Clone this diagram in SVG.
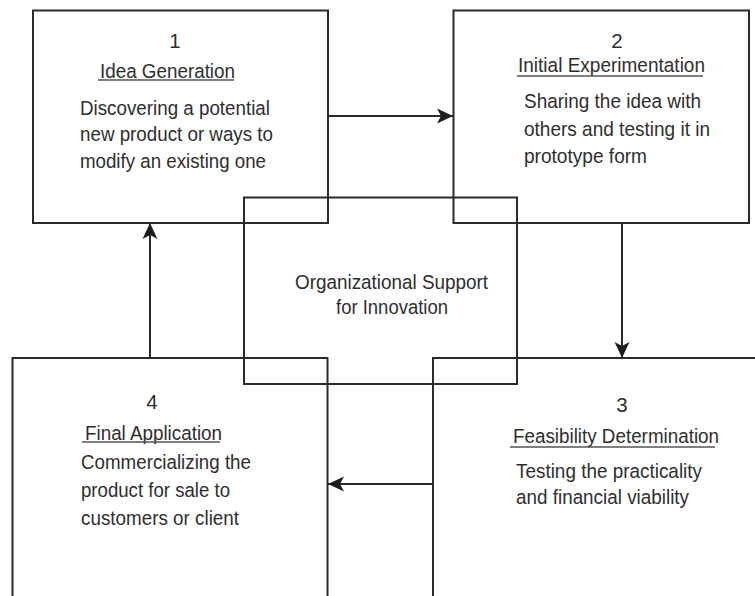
<svg xmlns="http://www.w3.org/2000/svg" width="755" height="596" viewBox="0 0 755 596">
  <style>
    .box { fill: none; stroke: #2b2b2b; stroke-width: 2; }
    .link { fill: none; stroke: #2b2b2b; stroke-width: 2; }
    text { font-family: "Liberation Sans", Arial, sans-serif; font-size: 20.5px; fill: #2e2e2e; }
    .num { text-anchor: middle; }
    .ul { stroke: #555; stroke-width: 1.4; }
  </style>
  <defs>
    <marker id="arrow" viewBox="-17 -9 18 18" refX="0" refY="0" markerWidth="18" markerHeight="18" markerUnits="userSpaceOnUse" orient="auto">
      <path d="M0,0 L-16,-7.5 L-12,0 L-16,7.5 Z" fill="#1e1e1e"/>
    </marker>
  </defs>

  <rect width="755" height="596" fill="#ffffff"/>

  <!-- central support box -->
  <g id="support">
    <rect class="box" x="244" y="197.5" width="273" height="186.5"/>
    <text x="295" y="289" textLength="193" lengthAdjust="spacingAndGlyphs">Organizational Support</text>
    <text x="336" y="314" textLength="112" lengthAdjust="spacingAndGlyphs">for Innovation</text>
  </g>

  <!-- step 1 -->
  <g id="step1">
    <rect class="box" x="33" y="10.5" width="295" height="212.5"/>
    <text class="num" x="175" y="48">1</text>
    <text x="100" y="78" textLength="135" lengthAdjust="spacingAndGlyphs">Idea Generation</text>
    <line class="ul" x1="98" y1="80" x2="234" y2="80"/>
    <text x="80" y="115" textLength="190" lengthAdjust="spacingAndGlyphs">Discovering a potential</text>
    <text x="80" y="141" textLength="193" lengthAdjust="spacingAndGlyphs">new product or ways to</text>
    <text x="80" y="168" textLength="186" lengthAdjust="spacingAndGlyphs">modify an existing one</text>
  </g>

  <!-- step 2 -->
  <g id="step2">
    <rect class="box" x="453.5" y="10.5" width="295.5" height="212.5"/>
    <text class="num" x="617" y="48">2</text>
    <text x="518" y="72" textLength="187" lengthAdjust="spacingAndGlyphs">Initial Experimentation</text>
    <line class="ul" x1="517" y1="76" x2="703" y2="76"/>
    <text x="524" y="108" textLength="177" lengthAdjust="spacingAndGlyphs">Sharing the idea with</text>
    <text x="524" y="136" textLength="186" lengthAdjust="spacingAndGlyphs">others and testing it in</text>
    <text x="524" y="163" textLength="123" lengthAdjust="spacingAndGlyphs">prototype form</text>
  </g>

  <!-- step 3 -->
  <g id="step3">
    <rect class="box" x="433" y="358" width="340" height="260"/>
    <text class="num" x="622" y="412">3</text>
    <text x="513" y="443" textLength="206" lengthAdjust="spacingAndGlyphs">Feasibility Determination</text>
    <line class="ul" x1="510" y1="447" x2="715" y2="447"/>
    <text x="516" y="478" textLength="186" lengthAdjust="spacingAndGlyphs">Testing the practicality</text>
    <text x="516" y="504" textLength="173" lengthAdjust="spacingAndGlyphs">and financial viability</text>
  </g>

  <!-- step 4 -->
  <g id="step4">
    <rect class="box" x="12.5" y="358" width="315" height="260"/>
    <text class="num" x="152" y="409">4</text>
    <text x="85" y="440" textLength="137" lengthAdjust="spacingAndGlyphs">Final Application</text>
    <line class="ul" x1="82" y1="442" x2="220" y2="442"/>
    <text x="81" y="469" textLength="170" lengthAdjust="spacingAndGlyphs">Commercializing the</text>
    <text x="81" y="497" textLength="149" lengthAdjust="spacingAndGlyphs">product for sale to</text>
    <text x="81" y="525" textLength="158" lengthAdjust="spacingAndGlyphs">customers or client</text>
  </g>

  <!-- cycle connectors -->
  <g id="connectors">
    <line class="link" x1="328" y1="116" x2="453" y2="116" marker-end="url(#arrow)"/>
    <line class="link" x1="622" y1="223" x2="622" y2="358" marker-end="url(#arrow)"/>
    <line class="link" x1="433" y1="484" x2="328" y2="484" marker-end="url(#arrow)"/>
    <line class="link" x1="150" y1="358" x2="150" y2="223" marker-end="url(#arrow)"/>
  </g>
</svg>
